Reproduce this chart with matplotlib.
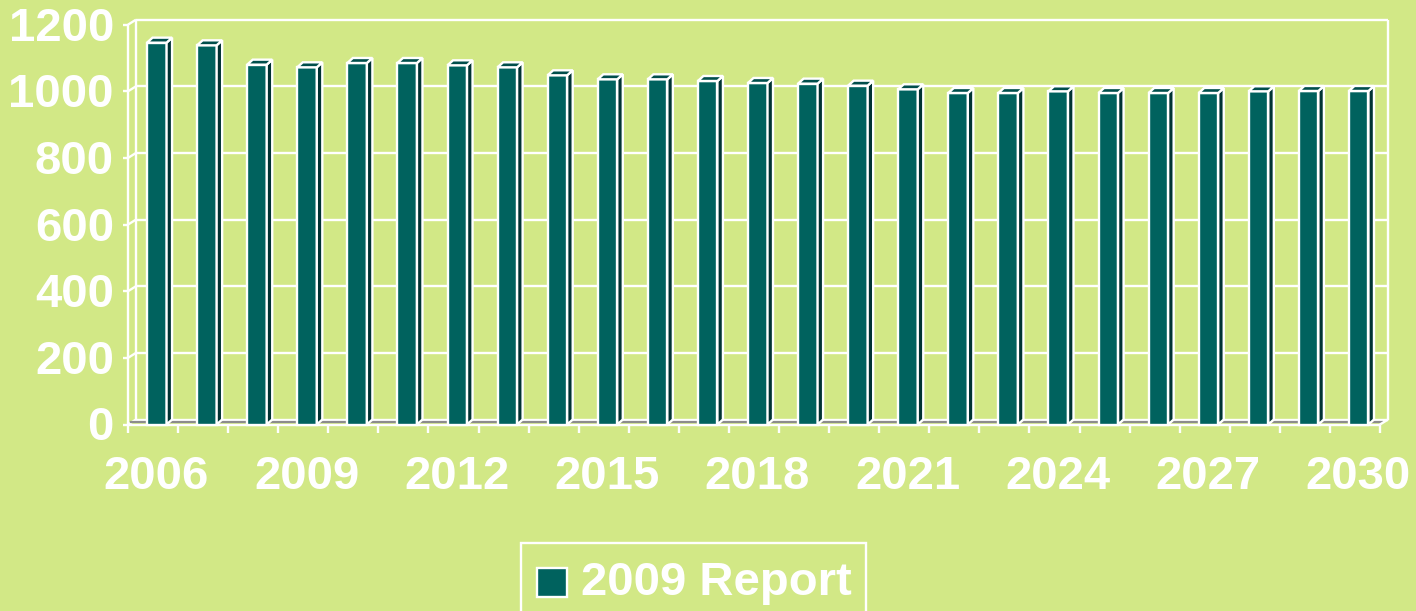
import matplotlib.pyplot as plt
from matplotlib.patches import Polygon, Rectangle
import numpy as np

plt.rcParams['font.family'] = ['Liberation Sans', 'DejaVu Sans']

# data
years = list(range(2006, 2031))
values = [1146, 1138, 1080, 1072, 1085, 1085, 1078, 1072, 1048, 1036,
          1036, 1031, 1025, 1023, 1017, 1006, 995, 995, 1000, 995,
          995, 995, 1000, 1001, 1001]
series_name = '2009 Report'
yticks = [0, 200, 400, 600, 800, 1000, 1200]
xlabel_step = 3

bg = '#D2E886'
front_c = '#00625E'
side_c = '#003333'
top_c = '#004E4B'
white = 'white'
fsize = 34

# 3d-ish geometry (in data units)
wall_dx, wall_dy = 0.16, 15      # depth of the walls
bar_dx, bar_dy = 0.11, 15        # depth of each bar
bar_off, bar_w = 0.38, 0.39      # front face of bar inside a category
n = len(values)
xmax = n + wall_dx

fig = plt.figure(figsize=(14.16, 6.11), dpi=100, facecolor=bg)
ax = fig.add_axes([128 / 1416, (611 - 424.5) / 611, 1260 / 1416, (424.5 - 22) / 611])
ax.set_facecolor(bg)
ax.axis('off')
ax.set_xlim(0, xmax)
ax.set_ylim(0, 1208)

lw = 1.7
line_kw = dict(color=white, lw=lw, clip_on=False, solid_capstyle='butt')

# back wall gridlines + side wall diagonals
for v in yticks:
    ax.plot([wall_dx, xmax], [v + wall_dy, v + wall_dy], zorder=1, **line_kw)
    ax.plot([0, wall_dx], [v, v + wall_dy], zorder=1, **line_kw)
    ax.plot([-0.1, 0], [v, v], zorder=1, **line_kw)
    ax.text(-0.28, v - 12, str(v), ha='right', va='center', color=white,
            fontsize=fsize, fontweight='bold', clip_on=False)

# wall edges
ax.plot([0, 0], [0, yticks[-1]], zorder=1, **line_kw)
ax.plot([wall_dx, wall_dx], [wall_dy, yticks[-1] + wall_dy], zorder=1, **line_kw)
ax.plot([xmax, xmax], [wall_dy, yticks[-1] + wall_dy], zorder=1, **line_kw)

# floor
ax.plot([0.05, n + 0.05], [wall_dy * 0.45, wall_dy * 0.45], color='#8c8c8c',
        lw=1.6, clip_on=False, zorder=1)
ax.plot([0, n], [0, 0], zorder=2, **line_kw)
ax.plot([n, xmax], [0, wall_dy], zorder=2, **line_kw)
for i in range(n + 1):
    ax.plot([i, i], [0, -26], zorder=2, **line_kw)

# bars
x0 = np.arange(n) + bar_off
ax.bar(x0, values, width=bar_w, align='edge', color=front_c,
       edgecolor=white, linewidth=lw, zorder=3, clip_on=False)
for xl, v in zip(x0, values):
    xr = xl + bar_w
    side = Polygon([(xr, 0), (xr + bar_dx, bar_dy), (xr + bar_dx, v + bar_dy), (xr, v)],
                   closed=True, facecolor=side_c, edgecolor=white, lw=lw,
                   zorder=3, clip_on=False)
    top = Polygon([(xl, v), (xl + bar_dx, v + bar_dy), (xr + bar_dx, v + bar_dy), (xr, v)],
                  closed=True, facecolor=top_c, edgecolor=white, lw=lw,
                  zorder=3, clip_on=False, joinstyle='miter')
    ax.add_patch(side)
    ax.add_patch(top)

# x labels
for i, yr in enumerate(years):
    if i % xlabel_step == 0:
        ax.text(i + 0.57, -158, str(yr), ha='center', va='center', color=white,
                fontsize=fsize, fontweight='bold', clip_on=False)

# legend
fig.patches.append(Rectangle((521 / 1416, -0.05), (866 - 521) / 1416, (611 - 543) / 611 + 0.05,
                             transform=fig.transFigure, facecolor='none',
                             edgecolor=white, lw=1.7))
fig.patches.append(Rectangle((537 / 1416, (611 - 597) / 611), 30 / 1416, 29 / 611,
                             transform=fig.transFigure, facecolor=front_c,
                             edgecolor=white, lw=1.7))
fig.text(581 / 1416, (611 - 583) / 611, series_name, ha='left', va='center',
         color=white, fontsize=fsize, fontweight='bold')

fig.savefig('out.png', dpi=100, facecolor=bg)
